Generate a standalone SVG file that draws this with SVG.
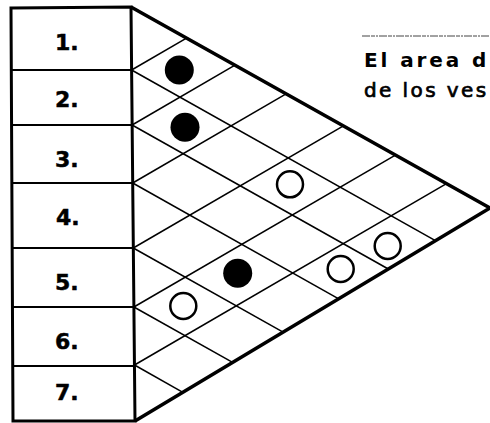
<svg xmlns="http://www.w3.org/2000/svg" width="490" height="423" viewBox="0 0 490 423">
<style>
.bg{fill:#fff}
.frame{fill:none;stroke:#000;stroke-width:3;stroke-linejoin:miter}
.div{stroke:#000;stroke-width:1.8}
.edge{fill:none;stroke:#000;stroke-width:3.6;stroke-linejoin:miter}
.grid line{stroke:#000;stroke-width:1.5}
.lbl{font-family:"DejaVu Sans",sans-serif;font-weight:bold;font-size:22px;fill:#000;stroke:#000;stroke-width:0.5}
.dot{fill:#000}
.ring{fill:#fff;stroke:#000;stroke-width:2.5}
.cap{font-family:"DejaVu Sans",sans-serif;font-size:20px;fill:#000}
</style>
<rect class="bg" x="0" y="0" width="490" height="423"/>
<g id="rows">
  <polygon class="frame" points="11,8 131,7 135,421 13,421"/>
  <line class="div" x1="11" y1="70" x2="132" y2="70"/>
  <line class="div" x1="11" y1="125" x2="132" y2="125"/>
  <line class="div" x1="12" y1="183" x2="133" y2="183"/>
  <line class="div" x1="12" y1="248" x2="133" y2="248"/>
  <line class="div" x1="12" y1="307" x2="134" y2="307"/>
  <line class="div" x1="13" y1="366" x2="134" y2="366"/>
</g>
<g id="row1"><text class="lbl" x="55" y="50">1.</text></g>
<g id="row2"><text class="lbl" x="55" y="107">2.</text></g>
<g id="row3"><text class="lbl" x="55" y="167">3.</text></g>
<g id="row4"><text class="lbl" x="56" y="225">4.</text></g>
<g id="row5"><text class="lbl" x="55" y="290">5.</text></g>
<g id="row6"><text class="lbl" x="55" y="349">6.</text></g>
<g id="row7"><text class="lbl" x="55" y="400">7.</text></g>
<g id="lattice" class="grid">
  <line x1="131.6" y1="70" x2="435.4" y2="240.7"/>
  <line x1="132.1" y1="125" x2="388.3" y2="269.0"/>
  <line x1="132.7" y1="183" x2="338.7" y2="298.8"/>
  <line x1="133.3" y1="248" x2="283.1" y2="332.1"/>
  <line x1="133.9" y1="307" x2="232.6" y2="362.4"/>
  <line x1="134.5" y1="365" x2="182.9" y2="392.3"/>
  <line x1="131.6" y1="70" x2="186.5" y2="38.1"/>
  <line x1="132.1" y1="125" x2="235.0" y2="65.2"/>
  <line x1="132.7" y1="183" x2="286.1" y2="93.9"/>
  <line x1="133.3" y1="248" x2="343.4" y2="125.9"/>
  <line x1="133.9" y1="307" x2="395.4" y2="155.1"/>
  <line x1="134.5" y1="365" x2="446.5" y2="183.7"/>
</g>
<g id="triangle">
  <path class="edge" d="M131,7 L490,208 L135,421"/>
</g>
<g id="markers">
  <circle class="dot" cx="179.3" cy="70" r="14.5"/>
  <circle class="dot" cx="185" cy="127.3" r="14.5"/>
  <circle class="dot" cx="237.7" cy="273.3" r="14.5"/>
  <circle class="ring" cx="290" cy="184.3" r="13"/>
  <circle class="ring" cx="183.3" cy="306" r="13"/>
  <circle class="ring" cx="340.7" cy="269" r="13"/>
  <circle class="ring" cx="387.7" cy="246" r="13"/>
</g>
<g id="caption">
  <line x1="362" y1="36" x2="490" y2="36" stroke="#444" stroke-width="1" stroke-dasharray="8 1 4 1 2 1"/>
  <text class="cap" x="364" y="67" font-weight="bold" letter-spacing="2.9">El area d</text>
  <text class="cap" x="364" y="97" letter-spacing="2.4" stroke="#000" stroke-width="0.7">de los ves</text>
</g>
</svg>
